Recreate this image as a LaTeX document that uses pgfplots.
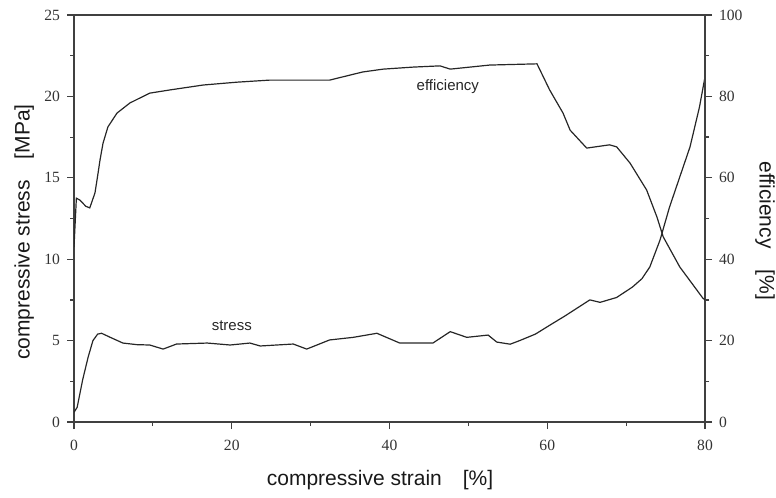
\documentclass[border=0pt]{standalone}
\usepackage{fontspec}
\setmainfont{Liberation Serif}
\setsansfont{Liberation Sans}
\usepackage{pgfplots}
\usepackage{pgfplotstable}
\pgfplotsset{compat=1.18}

% compressive stress [MPa] against strain [%]
\pgfplotstableread{
strain stress
0    0.6
0.4  0.9
1.1  2.6
1.8  4.0
2.4  5.0
3.0  5.4
3.5  5.45
4.6  5.2
6.2  4.85
8.0  4.75
9.6  4.73
11.3 4.48
13.0 4.79
16.9 4.85
19.8 4.73
22.3 4.85
23.6 4.67
27.8 4.79
29.5 4.48
32.4 5.04
35.4 5.2
38.4 5.45
41.3 4.85
45.5 4.85
47.7 5.55
49.8 5.2
52.5 5.34
53.6 4.91
55.3 4.78
56.5 5.0
58.5 5.4
60.5 6.0
62.2 6.5
63.8 7.0
65.4 7.5
66.7 7.35
68.8 7.65
70.8 8.29
72.0 8.8
73.0 9.52
74.3 11.18
75.5 13.2
76.8 15.05
78.1 16.9
79.3 19.35
80.0 21.2
}\stresstable

% energy absorption efficiency [%] against strain [%]
\pgfplotstableread{
strain eff
0    43
0.3  55
0.76 54.5
1.5  53
2.0  52.6
2.66 56.3
3.0  60.5
3.3  64.4
3.68 68.5
4.3  72.5
5.45 75.9
7.1  78.4
9.6  80.8
12.2 81.6
16.4 82.8
20.7 83.5
24.8 84.0
32.4 84.0
36.6 86.0
39.2 86.7
43.0 87.2
46.4 87.5
47.7 86.7
52.7 87.7
58.7 88.0
60.3 81.6
62.0 75.9
62.9 71.7
65.0 67.3
67.9 68.1
68.8 67.6
70.5 63.6
72.6 57.0
73.9 50.4
74.7 45.5
76.8 38.1
79.7 30.5
80.0 30.0
}\efftable

\begin{document}
\begin{tikzpicture}
\pgfplotsset{
  every axis/.append style={
    scale only axis, width=315.5pt, height=203.5pt,
    xmin=0, xmax=80,
    tick align=outside,
    major tick length=3.5pt, minor tick length=2pt,
    axis line style={black!75, line width=0.7pt},
    every tick/.style={black!75, line width=0.6pt},
    tick label style={font=\fontsize{7.8}{9}\selectfont, black!80},
    /pgf/number format/assume math mode=true,
    label style={font=\sffamily\fontsize{10.5}{12}\selectfont, black!90},
  }
}
\begin{axis}[
  name=ax,
  axis x line*=bottom, axis y line*=left,
  xtick pos=left, ytick pos=left,
  ymin=0, ymax=25,
  xtick={0,20,...,80}, ytick={0,5,...,25},
  minor xtick={10,30,50,70},
  minor ytick={2.5,7.5,12.5,17.5,22.5},
  xticklabel style={yshift=-2pt},
  xlabel={compressive strain\quad[\%]},
  ylabel={compressive stress\quad[MPa]},
  xlabel style={at={(axis description cs:0.485,-0.143)}, anchor=center},
  ylabel style={at={(axis description cs:-0.079,0.467)}, anchor=center},
]
\addplot[black!85, line width=0.6pt] table[x=strain, y=stress] {\stresstable};
% top frame line
\draw[black!75, line width=0.7pt] (rel axis cs:0,1) -- (rel axis cs:1,1);
\node[font=\sffamily\fontsize{7.5}{9}\selectfont, black!85] at (axis cs:47.4,20.6) {efficiency};
\node[font=\sffamily\fontsize{7.5}{9}\selectfont, black!85] at (axis cs:20.0,5.9) {stress};
\end{axis}
\begin{axis}[
  axis x line=none, axis y line*=right,
  ytick pos=right,
  ymin=0, ymax=100,
  ytick={0,20,...,100}, minor ytick={10,30,50,70,90},
  ylabel={efficiency\quad[\%]},
  ylabel style={at={(axis description cs:1.095,0.47)}, anchor=center, rotate=180},
]
\addplot[black!85, line width=0.6pt] table[x=strain, y=eff] {\efftable};
\end{axis}
\pgfresetboundingbox
\path ([xshift=-37pt,yshift=-37.5pt]ax.south west) rectangle ([xshift=35.5pt,yshift=7.5pt]ax.north east);
\end{tikzpicture}
\end{document}
